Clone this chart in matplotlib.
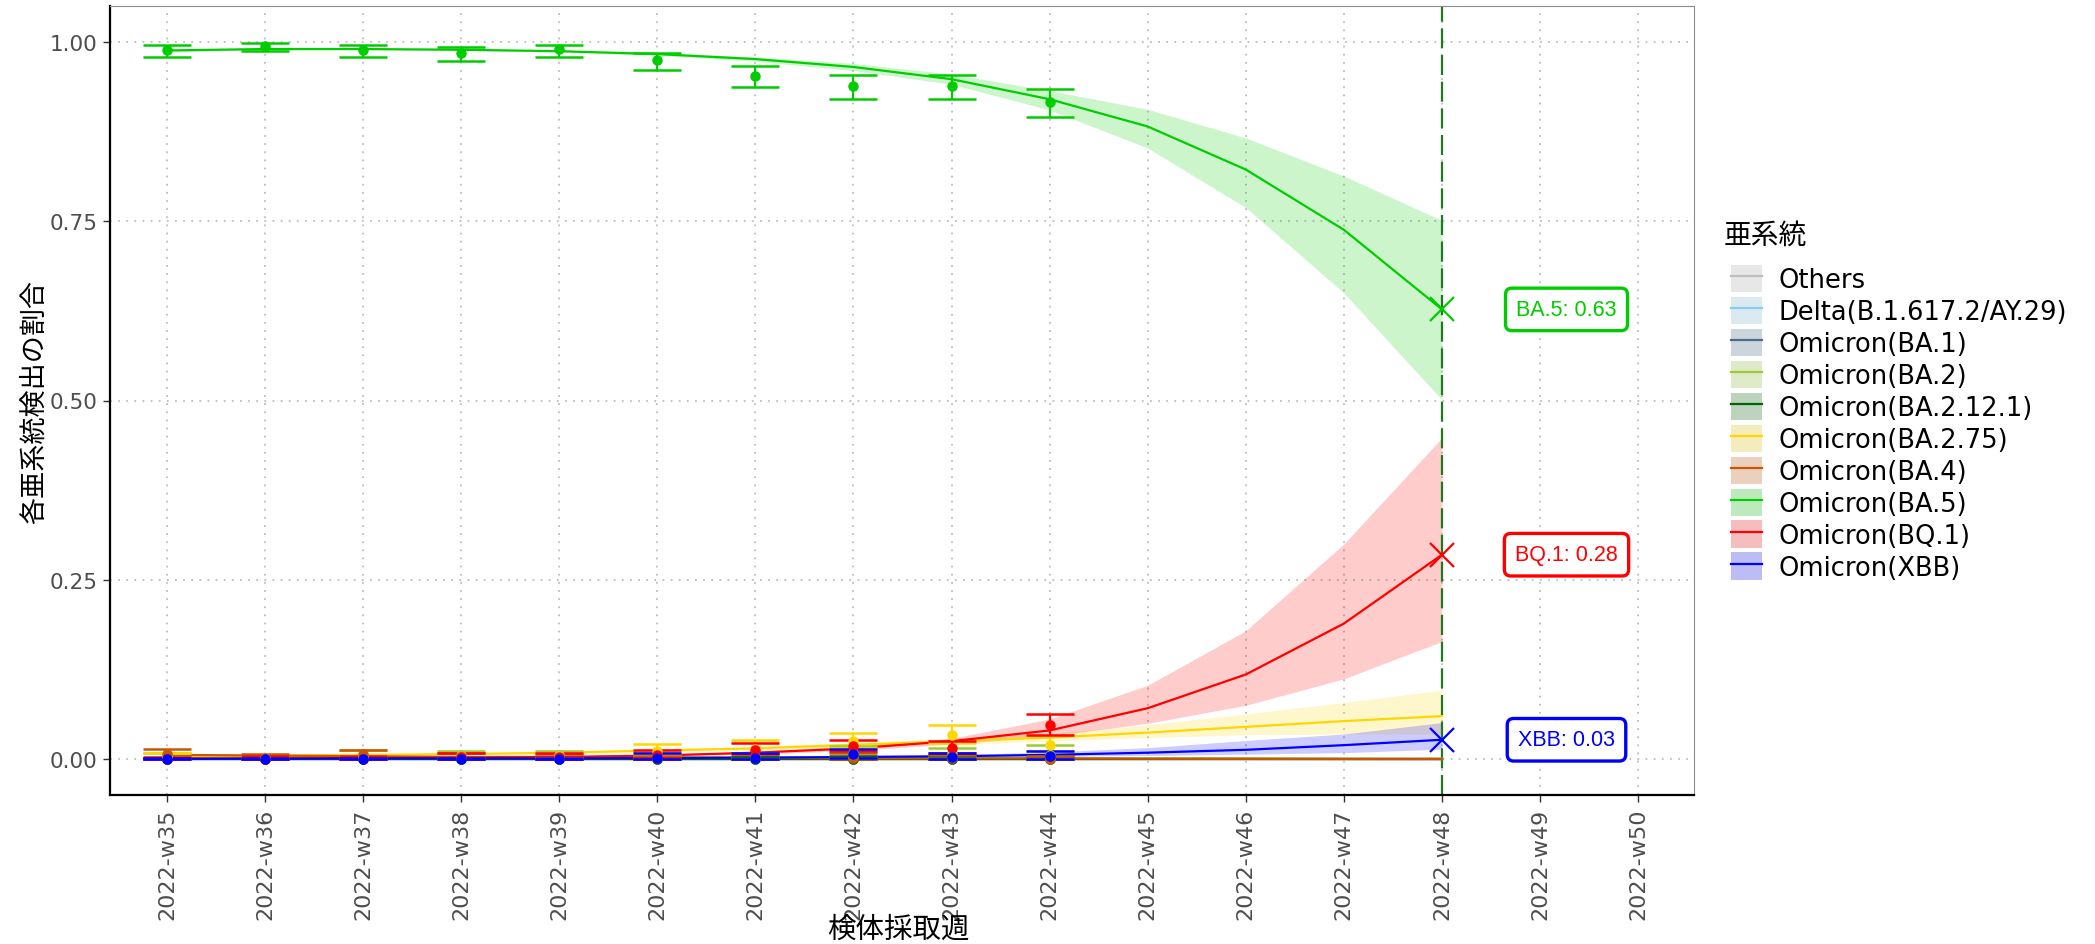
import matplotlib
matplotlib.use('Agg')
import matplotlib.pyplot as plt
import matplotlib.colors as mcolors
from matplotlib.lines import Line2D
from matplotlib.patches import Patch
from matplotlib.legend_handler import HandlerTuple
import numpy as np

plt.rcParams['font.family'] = ['DejaVu Sans', 'Noto Sans CJK JP']

# ---------------- data ----------------
week_labels = ['2022-w35', '2022-w36', '2022-w37', '2022-w38', '2022-w39', '2022-w40',
               '2022-w41', '2022-w42', '2022-w43', '2022-w44', '2022-w45', '2022-w46',
               '2022-w47', '2022-w48', '2022-w49', '2022-w50']
obs_weeks = week_labels[:10]     # observed w35-w44
fit_weeks = week_labels[:14]     # fitted w35-w48

variants = ['Others', 'Delta(B.1.617.2/AY.29)', 'Omicron(BA.1)', 'Omicron(BA.2)',
            'Omicron(BA.2.12.1)', 'Omicron(BA.2.75)', 'Omicron(BA.4)', 'Omicron(BA.5)',
            'Omicron(BQ.1)', 'Omicron(XBB)']
colors = ['#BEBEBE', '#87CEEB', '#4A6D8C', '#9ACD32', '#006400', '#FFD700', '#CC5500',
          '#00CD00', '#FF0000', '#0000FF']

# fitted proportions (w35..w48)
others_fit    = [0.0] * 14
others_lo     = [0.0] * 14
others_hi     = [0.0] * 14
delta_fit     = [0.0] * 14
delta_lo      = [0.0] * 14
delta_hi      = [0.0] * 14
ba1_fit       = [0.0] * 14
ba1_lo        = [0.0] * 14
ba1_hi        = [0.0] * 14
ba2_fit       = [0.003, 0.003, 0.003, 0.003, 0.003, 0.003, 0.002, 0.002, 0.002, 0.001, 0.001, 0.001, 0.0005, 0.0005]
ba2_lo        = [0.002, 0.002, 0.002, 0.002, 0.002, 0.002, 0.001, 0.001, 0.001, 0.0005, 0.0005, 0.0, 0.0, 0.0]
ba2_hi        = [0.004, 0.004, 0.004, 0.004, 0.004, 0.004, 0.003, 0.003, 0.003, 0.002, 0.002, 0.002, 0.001, 0.001]
ba2121_fit    = [0.0] * 14
ba2121_lo     = [0.0] * 14
ba2121_hi     = [0.0] * 14
ba275_fit     = [0.004, 0.005, 0.006, 0.007, 0.009, 0.012, 0.015, 0.020, 0.025, 0.030, 0.037, 0.045, 0.053, 0.060]
ba275_lo      = [0.003, 0.004, 0.005, 0.006, 0.007, 0.010, 0.013, 0.017, 0.021, 0.025, 0.030, 0.034, 0.035, 0.035]
ba275_hi      = [0.005, 0.006, 0.007, 0.008, 0.011, 0.014, 0.018, 0.023, 0.029, 0.036, 0.048, 0.063, 0.079, 0.096]
ba4_fit       = [0.006, 0.005, 0.004, 0.003, 0.003, 0.002, 0.002, 0.001, 0.001, 0.001, 0.0005, 0.0003, 0.0002, 0.0001]
ba4_lo        = [0.005, 0.004, 0.003, 0.002, 0.002, 0.001, 0.001, 0.0005, 0.0005, 0.0, 0.0, 0.0, 0.0, 0.0]
ba4_hi        = [0.007, 0.006, 0.005, 0.004, 0.004, 0.003, 0.003, 0.002, 0.002, 0.002, 0.001, 0.001, 0.001, 0.001]
ba5_fit       = [0.988, 0.990, 0.990, 0.989, 0.987, 0.983, 0.976, 0.965, 0.948, 0.920, 0.882, 0.822, 0.738, 0.627]
ba5_lo        = [0.986, 0.989, 0.989, 0.988, 0.986, 0.981, 0.973, 0.960, 0.941, 0.905, 0.852, 0.769, 0.650, 0.501]
ba5_hi        = [0.990, 0.991, 0.991, 0.990, 0.988, 0.985, 0.979, 0.970, 0.955, 0.932, 0.906, 0.866, 0.813, 0.751]
bq1_fit       = [0.0005, 0.001, 0.0015, 0.002, 0.003, 0.005, 0.009, 0.015, 0.025, 0.040, 0.071, 0.118, 0.189, 0.285]
bq1_lo        = [0.0, 0.0005, 0.001, 0.001, 0.002, 0.004, 0.007, 0.012, 0.021, 0.032, 0.050, 0.075, 0.112, 0.164]
bq1_hi        = [0.001, 0.002, 0.002, 0.003, 0.004, 0.007, 0.011, 0.018, 0.029, 0.056, 0.103, 0.179, 0.300, 0.448]
xbb_fit       = [0.0005, 0.0005, 0.001, 0.001, 0.001, 0.0015, 0.002, 0.003, 0.004, 0.006, 0.009, 0.013, 0.0195, 0.027]
xbb_lo        = [0.0, 0.0, 0.0, 0.0, 0.0, 0.001, 0.001, 0.002, 0.003, 0.004, 0.005, 0.007, 0.009, 0.014]
xbb_hi        = [0.001, 0.001, 0.002, 0.002, 0.002, 0.003, 0.003, 0.005, 0.006, 0.010, 0.016, 0.026, 0.035, 0.051]

# observed proportions with 95% CI (w35..w44)
others_obs    = [0.0] * 10
others_olo    = [0.0] * 10
others_ohi    = [0.001] * 10
delta_obs     = [0.0] * 10
delta_olo     = [0.0] * 10
delta_ohi     = [0.001] * 10
ba1_obs       = [0.0] * 10
ba1_olo       = [0.0] * 10
ba1_ohi       = [0.001] * 10
ba2_obs       = [0.004, 0.001, 0.005, 0.006, 0.006, 0.004, 0.003, 0.008, 0.008, 0.006]
ba2_olo       = [0.001, 0.0, 0.001, 0.002, 0.002, 0.001, 0.0, 0.003, 0.003, 0.002]
ba2_ohi       = [0.009, 0.005, 0.013, 0.012, 0.012, 0.009, 0.009, 0.019, 0.016, 0.020]
ba2121_obs    = [0.0] * 10
ba2121_olo    = [0.0] * 10
ba2121_ohi    = [0.002, 0.002, 0.002, 0.002, 0.002, 0.003, 0.003, 0.004, 0.004, 0.004]
ba275_obs     = [0.003, 0.001, 0.002, 0.003, 0.004, 0.012, 0.014, 0.025, 0.033, 0.020]
ba275_olo     = [0.0, 0.0, 0.0, 0.0, 0.001, 0.006, 0.007, 0.016, 0.023, 0.012]
ba275_ohi     = [0.008, 0.005, 0.006, 0.008, 0.009, 0.021, 0.027, 0.036, 0.047, 0.033]
ba4_obs       = [0.007, 0.002, 0.007, 0.003, 0.002, 0.001, 0.004, 0.002, 0.001, 0.0]
ba4_olo       = [0.002, 0.0, 0.002, 0.0, 0.0, 0.0, 0.0, 0.0, 0.0, 0.0]
ba4_ohi       = [0.014, 0.007, 0.013, 0.008, 0.007, 0.005, 0.009, 0.009, 0.006, 0.004]
ba5_obs       = [0.989, 0.994, 0.989, 0.984, 0.990, 0.975, 0.953, 0.939, 0.939, 0.916]
ba5_olo       = [0.979, 0.987, 0.979, 0.973, 0.979, 0.961, 0.937, 0.920, 0.920, 0.895]
ba5_ohi       = [0.995, 0.999, 0.995, 0.993, 0.995, 0.985, 0.967, 0.954, 0.954, 0.934]
bq1_obs       = [0.0, 0.0, 0.0, 0.003, 0.003, 0.006, 0.013, 0.018, 0.015, 0.047]
bq1_olo       = [0.0, 0.0, 0.0, 0.0, 0.0, 0.002, 0.007, 0.011, 0.009, 0.033]
bq1_ohi       = [0.003, 0.004, 0.004, 0.008, 0.008, 0.013, 0.022, 0.027, 0.025, 0.063]
xbb_obs       = [0.0, 0.0, 0.0, 0.0, 0.0, 0.001, 0.002, 0.007, 0.003, 0.004]
xbb_olo       = [0.0, 0.0, 0.0, 0.0, 0.0, 0.0, 0.0, 0.002, 0.0, 0.0]
xbb_ohi       = [0.001, 0.001, 0.001, 0.001, 0.002, 0.008, 0.008, 0.014, 0.009, 0.011]

# labelled forecasts at final week
label_week = '2022-w48'
label_texts = ['BA.5: 0.63', 'BQ.1: 0.28', 'XBB: 0.03']
label_values = [0.627, 0.285, 0.027]
label_colors = ['#00CD00', '#FF0000', '#0000FF']

y_ticks = [0.0, 0.25, 0.5, 0.75, 1.0]
y_ticklabels = ['0.00', '0.25', '0.50', '0.75', '1.00']

fits = [(others_fit, others_lo, others_hi), (delta_fit, delta_lo, delta_hi),
        (ba1_fit, ba1_lo, ba1_hi), (ba2_fit, ba2_lo, ba2_hi),
        (ba2121_fit, ba2121_lo, ba2121_hi), (ba275_fit, ba275_lo, ba275_hi),
        (ba4_fit, ba4_lo, ba4_hi), (ba5_fit, ba5_lo, ba5_hi),
        (bq1_fit, bq1_lo, bq1_hi), (xbb_fit, xbb_lo, xbb_hi)]
obss = [(others_obs, others_olo, others_ohi), (delta_obs, delta_olo, delta_ohi),
        (ba1_obs, ba1_olo, ba1_ohi), (ba2_obs, ba2_olo, ba2_ohi),
        (ba2121_obs, ba2121_olo, ba2121_ohi), (ba275_obs, ba275_olo, ba275_ohi),
        (ba4_obs, ba4_olo, ba4_ohi), (ba5_obs, ba5_olo, ba5_ohi),
        (bq1_obs, bq1_olo, bq1_ohi), (xbb_obs, xbb_olo, xbb_ohi)]

# ---------------- plot ----------------
W, H = 2095, 945
fig = plt.figure(figsize=(W / 100, H / 100), dpi=100)
ax = fig.add_axes([110 / W, 1 - 796 / H, (1694 - 110) / W, (796 - 7) / H])

pos = {w: i for i, w in enumerate(week_labels)}
x_fit = np.array([pos[w] for w in fit_weeks])
x_obs = np.array([pos[w] for w in obs_weeks])

for (m, lo, hi), c in zip(fits, colors):
    ax.fill_between(x_fit, lo, hi, color=c, alpha=0.2, lw=0, zorder=2)

ax.axvline(pos[label_week], color='#1F7A1F', lw=1.6, ls=(0, (9, 3)), zorder=2.5)

for (m, lo, hi), c in zip(fits, colors):
    ax.plot(x_fit, m, color=c, lw=1.6, zorder=3)

for (m, lo, hi), c in zip(obss, colors):
    m = np.array(m); lo = np.array(lo); hi = np.array(hi)
    ax.errorbar(x_obs, m, yerr=[m - lo, hi - m], fmt='none', ecolor=c,
                elinewidth=1.6, capsize=17, capthick=1.8, zorder=4)
for (m, lo, hi), c in zip(obss, colors):
    ax.plot(x_obs, m, 'o', color=c, ms=6.5, mec=c, zorder=5)

lx = pos[label_week]
for t, v, c in zip(label_texts, label_values, label_colors):
    ax.plot([lx], [v], marker='x', color=c, ms=17, mew=1.6, zorder=6, ls='none')
    ax.text(lx + 1.27, v, t, color=c, fontsize=15.5, family=['Liberation Sans', 'DejaVu Sans'],
            ha='center', va='center', zorder=7,
            bbox=dict(boxstyle='round,pad=0.5,rounding_size=0.3', fc='white', ec=c, lw=2.4))

ax.set_xlim(-0.58, 15.57)
ax.set_ylim(-0.05, 1.05)
ax.set_xticks(range(len(week_labels)))
ax.set_xticklabels(week_labels, rotation=90, fontsize=16, color='#4D4D4D')
ax.set_yticks(y_ticks)
ax.set_yticklabels(y_ticklabels, fontsize=15.5, color='#4D4D4D')
ax.tick_params(axis='both', colors='#333333', length=5, width=1, labelcolor='#4D4D4D', pad=4)

ax.grid(True, linestyle=(0, (1, 3.5)), color='#BDBDBD', lw=1.3, zorder=0)
ax.set_axisbelow(True)
for s in ['top', 'right']:
    ax.spines[s].set_color('#8C8C8C')
    ax.spines[s].set_linewidth(0.8)
for s in ['left', 'bottom']:
    ax.spines[s].set_color('black')
    ax.spines[s].set_linewidth(1.6)

ax.set_ylabel('各亜系統検出の割合', fontsize=19.5, color='black')
ax.yaxis.set_label_coords(-0.039, 0.5)
ax.set_xlabel('検体採取週', fontsize=20.5, color='black')
ax.xaxis.set_label_coords(0.498, -0.17)
ax.xaxis.label.set_va('center')

# legend
def key_fill(c):
    rgb = np.array(mcolors.to_rgb(c))
    bg = np.array([0.95, 0.95, 0.95])
    return tuple(0.78 * bg + 0.22 * rgb)

handles = [(Patch(facecolor=key_fill(c), edgecolor='none'), Line2D([], [], color=c, lw=1.6))
           for c in colors]
fig.text(1724 / W, 1 - 236 / H, '亜系統', fontsize=20, ha='left', va='center', color='black')
leg = fig.legend(handles, variants, loc='upper left',
                 bbox_to_anchor=(1718 / W, 1 - 253 / H), frameon=False,
                 fontsize=18.5, handlelength=1.22, handleheight=1.25,
                 labelspacing=0.145, handletextpad=0.65, borderpad=0,
                 handler_map={tuple: HandlerTuple(ndivide=1)})

fig.savefig('out.png', dpi=100)
